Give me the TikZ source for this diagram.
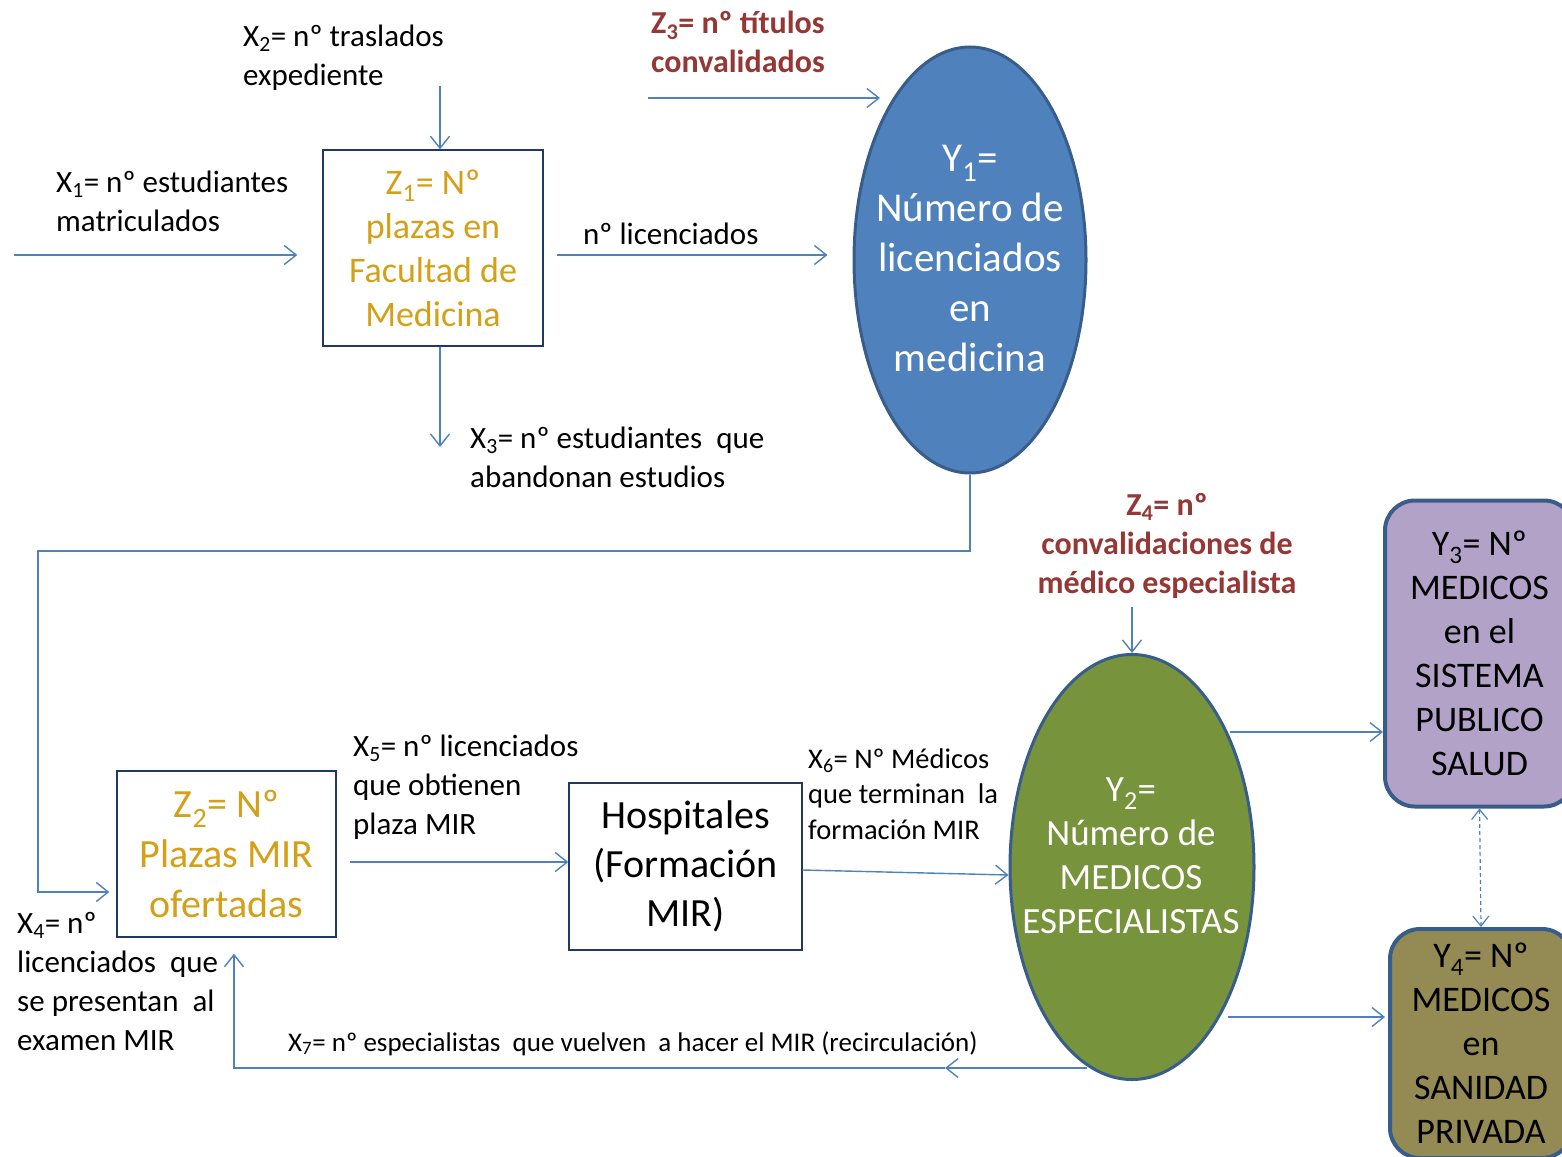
\documentclass[tikz,border=0pt]{standalone}
\usepackage{fontspec}
\setmainfont{Carlito}
\usetikzlibrary{arrows.meta,shapes.geometric,calc}
\definecolor{arrowblue}{RGB}{79,129,189}
\definecolor{navy}{RGB}{31,56,100}
\definecolor{gold}{RGB}{212,160,23}
\definecolor{brick}{RGB}{149,55,53}
\definecolor{yonefill}{RGB}{79,129,189}
\definecolor{shapeedge}{RGB}{56,93,138}
\definecolor{ytwofill}{RGB}{119,147,60}
\definecolor{ythreefill}{RGB}{179,162,199}
\definecolor{yfourfill}{RGB}{148,138,84}
\begin{document}
\begin{tikzpicture}[x=1pt,y=-1pt,
  arr/.style={draw=arrowblue,line width=1.4pt,-{Straight Barb[length=12pt,width=19pt]}},
  dblarr/.style={draw=arrowblue,line width=1.2pt,dash pattern=on 4pt off 3pt,{Straight Barb[length=10pt,width=16pt]}-{Straight Barb[length=10pt,width=16pt]}},
  lbl/.style={anchor=base west,inner sep=0pt,align=left,font=\fontsize{31}{39}\selectfont},
  redlbl/.style={inner sep=0pt,align=left,font=\bfseries\fontsize{32}{39}\selectfont,text=brick},
  plainbox/.style={draw=navy,line width=1.3pt,fill=white,align=center,inner sep=0pt},
  oval/.style={ellipse,draw=shapeedge,line width=3pt,inner sep=0pt},
  ovaltext/.style={align=center,inner sep=0pt,text=white},
  roundbox/.style={draw=shapeedge,line width=4pt,rounded corners=30pt,align=center,inner sep=0pt,font=\fontsize{36}{44}\selectfont},
]
\useasboundingbox (0,0) rectangle (1562,1156);
\clip (0,0) rectangle (1562,1156);

% ---- main shapes
\node[plainbox,minimum width=220pt,minimum height=196pt,text=gold,font=\fontsize{36}{44}\selectfont]
  (Z1) at (433,248) {Z\textsubscript{1}= Nº\\plazas en\\Facultad de\\Medicina};
\node[oval,fill=yonefill,minimum width=232pt,minimum height=426pt] (Y1) at (970,260) {};
\node[ovaltext,font=\fontsize{41}{50}\selectfont] (Y1t) at (970,258.5)
  {Y\textsubscript{1}=\\Número de\\licenciados\\en\\medicina};
\node[plainbox,minimum width=219pt,minimum height=166pt,text=gold,font=\fontsize{40}{50}\selectfont]
  (Z2) at (226.5,854) {Z\textsubscript{2}= Nº\\Plazas MIR\\ofertadas};
\node[plainbox,minimum width=233pt,minimum height=167pt,font=\fontsize{40}{49}\selectfont]
  (H) at (685.5,866.5) {Hospitales\\(Formación\\MIR)};
\node[oval,fill=ytwofill,minimum width=244pt,minimum height=425pt] (Y2) at (1132,867) {};
\node[ovaltext,font=\fontsize{37}{44}\selectfont] (Y2t) at (1131,856)
  {Y\textsubscript{2}=\\Número de\\MEDICOS\\ESPECIALISTAS};
\node[roundbox,fill=ythreefill,minimum width=189pt,minimum height=306pt]
  (Y3) at (1479.5,653.5) {Y\textsubscript{3}= Nº\\MEDICOS\\en el\\SISTEMA\\PUBLICO\\SALUD};
\node[roundbox,fill=yfourfill,minimum width=182pt,minimum height=229pt]
  (Y4) at (1481,1043.5) {Y\textsubscript{4}= Nº\\MEDICOS\\en\\SANIDAD\\PRIVADA};

% ---- labels (anchor = baseline of the last line)
\node[lbl] (x2l) at (243,85) {X\textsubscript{2}= nº traslados\\expediente};
\node[lbl] (x1l) at (56,231) {X\textsubscript{1}= nº estudiantes\\matriculados};
\node[lbl] (licl) at (583,244) {nº licenciados};
\node[redlbl,anchor=base west] (z3l) at (651,72) {Z\textsubscript{3}= nº títulos\\convalidados};
\node[lbl] (x3l) at (470,487) {X\textsubscript{3}= nº estudiantes\ \ que\\abandonan estudios};
\node[redlbl,anchor=base,align=center] (z4l) at (1167,593) {Z\textsubscript{4}= nº\\convalidaciones de\\médico especialista};
\node[lbl] (x5l) at (353,834) {X\textsubscript{5}= nº licenciados\\que obtienen\\plaza MIR};
\node[lbl,font=\fontsize{28.5}{35.5}\selectfont] (x6l) at (808,839) {X\textsubscript{6}= Nº Médicos\\que terminan\ \ la\\formación MIR};
\node[lbl] (x4l) at (17,1050) {X\textsubscript{4}= nº\\licenciados\ \ que\\se presentan\ \ al\\examen MIR};
\node[lbl,font=\fontsize{27}{32}\selectfont] (x7l) at (288,1051) {X\textsubscript{7}= nº especialistas\ \ que vuelven\ \ a hacer el MIR (recirculación)};

% ---- connector ends and bends
\coordinate (x1s) at (14,255);
\coordinate (x2s) at (440,86);
\coordinate (lics) at (557,255);
\coordinate (z3s) at (648,98);
\coordinate (z3e) at (880,98);
\coordinate (x3e) at (440,447);
\coordinate (lb1) at (970,551);
\coordinate (lb2) at (38,551);
\coordinate (lb3) at (38,892);
\coordinate (x5s) at (350,862);
\coordinate (z4s) at (1132,607);
\coordinate (y3s) at (1230,732);
\coordinate (y4s) at (1228,1017);
\coordinate (r1) at (1087,1068);
\coordinate (rmid) at (945,1068);
\coordinate (r2) at (234,1068);

% ---- connectors
\draw[arr,shorten >=25pt] (x1s) -- (x1s -| Z1.west);
\draw[arr] (x2s) -- (x2s |- Z1.north);
\draw[arr,shorten >=25pt] (lics) -- (lics -| Y1.west);
\draw[arr] (z3s) -- (z3e);
\draw[arr] (x2s |- Z1.south) -- (x3e);
\draw[arr,shorten >=7pt] (Y1.south) -- (lb1) -- (lb2) -- (lb3) -- (lb3 -| Z2.west);
\draw[arr] (x5s) -- (x5s -| H.west);
\draw[arr] ([yshift=-3.5pt]H.east) -- ([yshift=-8pt]Y2.west);
\draw[arr] (z4s) -- (Y2.north);
\draw[arr] (y3s) -- (y3s -| Y3.west);
\draw[arr,shorten >=3pt] (y4s) -- (y4s -| Y4.west);
\draw[dblarr] (Y3.south) -- (Y4.north);
\draw[arr] (r1) -- (rmid);
\draw[arr,shorten >=16pt] (rmid) -- (r2) -- (r2 |- Z2.south);
\end{tikzpicture}
\end{document}
